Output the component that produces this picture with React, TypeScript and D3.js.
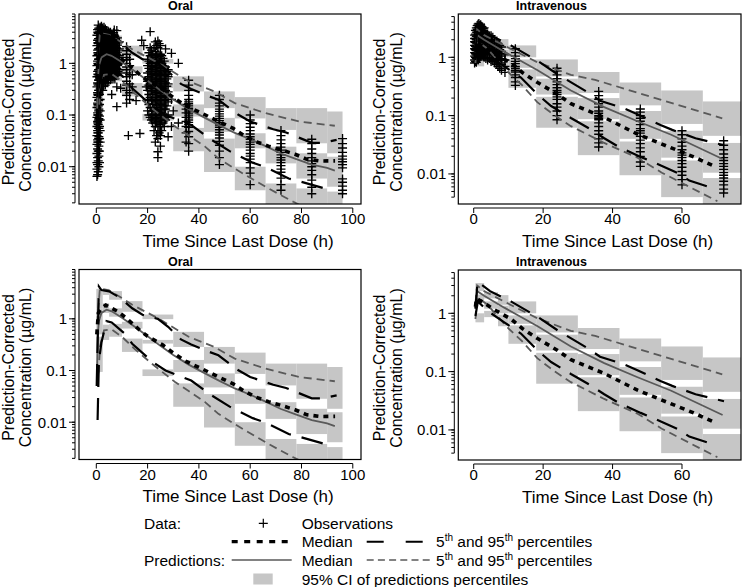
import React from "react";
import * as d3 from "d3";

type Pt = [number, number];

// ---------------- ORAL ----------------
const oralBinEdges = [0, 2.5, 5, 10, 18, 30, 42, 54, 66, 78, 90, 96];
const oralCI95: Pt[] = [[1.6, 3.8], [2.9, 3.8], [2.34, 3.44], [1.37, 2.2], [0.985, 1.21], [0.286, 0.56], [0.136, 0.286], [0.086, 0.222], [0.0515, 0.136], [0.0284, 0.136], [0.0182, 0.117]];
const oralCI50: Pt[] = [[0.5, 1.6], [1.3, 2.0], [1.1, 1.6], [0.649, 0.875], [0.332, 0.391], [0.0935, 0.16], [0.0471, 0.0881], [0.0227, 0.0444], [0.0116, 0.0244], [0.0059, 0.0182], [0.0041, 0.0156]];
const oralCI5: Pt[] = [[0.094, 0.45], [0.39, 0.77], [0.45, 0.8], [0.229, 0.415], [0.0782, 0.105], [0.0199, 0.0563], [0.0079, 0.035], [0.0035, 0.01], [0.0015, 0.00474], [0.0015, 0.0038], [0.0015, 0.0033]];

const oralObsP95: Pt[] = [[0.15, 0.05], [1.0, 4.2], [2, 3.6], [5, 3.4], [9, 2.6], [14, 1.6], [18, 1.2], [24, 1.0], [28, 0.7], [33, 0.4], [37, 0.32], [42, 0.25], [47.6, 0.197], [55.4, 0.101], [60, 0.075], [69, 0.053], [74, 0.046], [84, 0.029], [88.5, 0.029], [93.7, 0.033]];
const oralObsP50: Pt[] = [[0.2, 0.5], [0.8, 1.3], [2, 1.6], [3.7, 1.84], [6, 1.6], [8.6, 1.37], [12, 1.0], [17, 0.6], [20, 0.46], [26, 0.31], [30, 0.22], [35, 0.15], [41.7, 0.105], [47.6, 0.075], [53.4, 0.055], [57.3, 0.041], [61.9, 0.031], [67.1, 0.025], [72.3, 0.021], [77.5, 0.0174], [82.1, 0.0139], [87.3, 0.0129], [93.1, 0.013]];
const oralObsP5: Pt[] = [[0.5, 0.011], [1, 0.15], [2, 0.35], [4, 0.9], [6, 0.85], [11, 0.52], [14, 0.33], [22, 0.146], [27, 0.1], [37, 0.064], [45, 0.033], [52, 0.02], [61, 0.012], [66, 0.0098], [75, 0.0059], [80, 0.0051], [89, 0.0038]];
const oralPredP95: Pt[] = [[0.3, 0.8], [1.4, 3.9], [5, 3.55], [9, 2.7], [14, 1.87], [24, 1.03], [36, 0.45], [46, 0.286], [54, 0.17], [66, 0.109], [79, 0.075], [93, 0.062]];
const oralPredP50: Pt[] = [[0.3, 0.1], [0.6, 0.5], [1, 0.9], [2, 1.3], [4, 1.5], [6, 1.4], [10, 1.05], [15, 0.7], [20, 0.46], [25, 0.3], [30, 0.2], [36, 0.13], [42, 0.09], [48, 0.063], [54, 0.045], [60, 0.034], [66, 0.025], [72, 0.018], [78, 0.014], [84, 0.011], [90, 0.0095], [93, 0.0084]];
const oralPredP5: Pt[] = [[0.5, 0.05], [1.5, 0.3], [3, 0.6], [6, 0.62], [10, 0.45], [15, 0.26], [21.6, 0.136], [30.7, 0.06], [36, 0.04], [42.4, 0.0245], [47.6, 0.0145], [53, 0.0098], [59.3, 0.0064], [67.1, 0.0038], [76.8, 0.0021], [84, 0.0014], [93, 0.001]];

const oralObsTimes = [
  0.25, 0.5, 0.6, 0.75, 0.9, 1.0, 1.25, 1.5, 1.75, 2, 2.25, 2.5, 2.75, 3, 3.25, 3.5, 3.75, 4, 4.25, 4.5, 4.75, 5, 5.25, 5.5, 5.75,
  6, 6.25, 6.5, 6.75, 7, 7.25, 7.5, 7.75, 8, 8.25, 8.5, 9, 9.5,
  11.8, 13, 14, 15.5, 17, 12.5, 17.7, 18.5, 19.5,
  20, 20.5, 21, 21.5, 22, 22.5, 23, 23.5, 24, 24.5, 25, 25.5, 26, 26.5, 27, 27.5, 28, 29.3, 30, 32,
  35, 36, 48, 60, 72, 84, 96,
];
const oralObsConc: number[][] = [
  [0.0065, 0.009, 0.012, 0.018, 0.027, 0.04, 0.06, 0.09, 0.14, 0.22, 0.35, 0.55, 0.9, 1.4, 2.2, 3.5],
  [0.007, 0.011, 0.015, 0.022, 0.033, 0.05, 0.075, 0.11, 0.17, 0.27, 0.42, 0.7, 1.1, 1.8, 2.8, 4.5],
  [0.03, 0.045, 0.07, 0.1, 0.16, 0.25, 0.4, 0.62, 1.0, 1.6, 2.5, 4.0],
  [0.008, 0.013, 0.02, 0.03, 0.045, 0.065, 0.1, 0.15, 0.24, 0.38, 0.6, 0.95, 1.5, 2.4, 3.8, 5.5],
  [0.02, 0.035, 0.055, 0.08, 0.12, 0.19, 0.3, 0.47, 0.75, 1.2, 1.9, 3.0, 4.6],
  [0.01, 0.016, 0.025, 0.038, 0.055, 0.085, 0.13, 0.2, 0.3, 0.48, 0.75, 1.2, 1.9, 3.0, 4.8],
  [0.012, 0.02, 0.035, 0.06, 0.095, 0.16, 0.25, 0.4, 0.65, 1.0, 1.6, 2.6, 4.2],
  [0.03, 0.05, 0.08, 0.12, 0.2, 0.32, 0.5, 0.8, 1.25, 2.0, 3.2, 5.0],
  [0.4, 0.55, 0.78, 1.05, 1.45, 2.0, 2.7, 3.6, 4.7],
  [0.35, 0.5, 0.7, 0.95, 1.3, 1.8, 2.4, 3.2, 4.2, 5.2],
  [0.45, 0.62, 0.88, 1.2, 1.65, 2.25, 3.0, 4.0],
  [0.3, 0.42, 0.6, 0.82, 1.1, 1.5, 2.05, 2.8, 3.7, 4.8],
  [0.36, 0.52, 0.72, 0.98, 1.35, 1.85, 2.5, 3.35, 4.4],
  [0.45, 0.62, 0.85, 1.15, 1.6, 2.2, 3.0, 4.0, 5.0],
  [0.5, 0.68, 0.92, 1.25, 1.7, 2.35, 3.2, 4.2],
  [0.38, 0.55, 0.75, 1.0, 1.4, 1.9, 2.6, 3.5, 4.6],
  [0.42, 0.58, 0.8, 1.1, 1.5, 2.05, 2.8, 3.8],
  [0.5, 0.7, 0.95, 1.3, 1.75, 2.4, 3.2, 4.3],
  [0.55, 0.75, 1.0, 1.4, 1.9, 2.6, 3.5],
  [0.42, 0.6, 0.82, 1.1, 1.5, 2.05, 2.8, 3.8],
  [0.48, 0.66, 0.9, 1.2, 1.65, 2.25, 3.1, 4.1],
  [0.55, 0.75, 1.0, 1.35, 1.85, 2.5, 3.4],
  [0.6, 0.82, 1.1, 1.5, 2.05, 2.8, 3.8],
  [0.48, 0.65, 0.9, 1.2, 1.65, 2.25, 3.0, 4.0],
  [0.52, 0.72, 0.98, 1.35, 1.8, 2.45, 3.3],
  [0.25, 0.6, 0.8, 1.1, 1.5, 2.0, 2.7, 3.6],
  [0.56, 0.76, 1.05, 1.4, 1.95, 2.6, 3.5],
  [0.5, 0.7, 0.95, 1.3, 1.75, 2.4, 3.2],
  [0.62, 0.85, 1.15, 1.55, 2.1, 2.85, 3.9],
  [0.55, 0.75, 1.0, 1.4, 1.9, 2.6, 3.5, 4.4],
  [0.5, 0.7, 0.95, 1.3, 1.75, 2.4, 3.3],
  [0.65, 0.88, 1.2, 1.6, 2.2, 3.0],
  [0.58, 0.8, 1.1, 1.5, 2.0, 2.75],
  [0.145, 0.35, 0.6, 0.8, 1.05, 1.45, 1.95, 2.7, 4.3],
  [0.65, 0.9, 1.2, 1.65, 2.25, 3.1],
  [0.7, 0.95, 1.3, 1.8, 2.5],
  [0.75, 1.0, 1.4, 1.9, 2.6],
  [0.33],
  [0.17, 0.24, 0.3, 0.38, 0.45, 0.55, 0.65, 0.75, 0.85, 1.0, 1.15, 1.3, 1.5, 1.75, 2.1],
  [0.2, 0.27, 0.4, 0.6, 0.9, 1.2],
  [0.35, 0.6],
  [0.19],
  [0.044],
  [0.04],
  [2.8],
  [2.2],
  [0.35],
  [0.12, 0.2, 0.3, 0.45, 0.65, 0.9, 1.2],
  [0.1, 0.16, 0.25, 0.38, 0.55, 0.8, 1.1, 1.6],
  [0.09, 0.14, 0.22, 0.33, 0.48, 0.7, 1.0, 1.4, 2.0, 4.1],
  [0.08, 0.12, 0.19, 0.29, 0.42, 0.6, 0.86, 1.2, 1.8],
  [0.07, 0.1, 0.16, 0.25, 0.36, 0.52, 0.75, 1.05, 1.5],
  [0.05, 0.09, 0.13, 0.2, 0.3, 0.44, 0.64, 0.9, 1.3, 2.0],
  [0.03, 0.06, 0.085, 0.12, 0.18, 0.27, 0.4, 0.58, 0.82, 1.15, 1.7, 2.6],
  [0.04, 0.07, 0.1, 0.15, 0.22, 0.33, 0.48, 0.7, 1.0, 1.4, 2.2],
  [0.015, 0.0195, 0.035, 0.05, 0.075, 0.1, 0.14, 0.2, 0.28, 0.38, 0.5, 0.65, 0.85, 1.1, 1.5, 2.0, 2.7],
  [0.045, 0.065, 0.09, 0.13, 0.19, 0.26, 0.36, 0.48, 0.62, 0.8, 1.05, 1.35, 2.4],
  [0.025, 0.04, 0.06, 0.09, 0.12, 0.17, 0.24, 0.33, 0.45, 0.6, 0.8, 1.1, 1.5, 2.2],
  [0.05, 0.08, 0.11, 0.16, 0.23, 0.34, 0.5, 0.72, 1.0, 1.4],
  [0.07, 0.1, 0.15, 0.22, 0.32, 0.45, 0.65, 0.9, 1.25],
  [0.06, 0.09, 0.13, 0.19, 0.28, 0.4, 0.58, 0.8, 1.1],
  [0.08, 0.13, 0.2, 0.3, 0.42, 0.6, 0.85, 1.9],
  [0.09, 0.15, 0.24, 0.36, 0.5, 0.7],
  [0.038, 0.1, 0.18, 0.28, 0.4, 0.55, 0.75],
  [0.06, 0.2, 1.56],
  [0.12],
  [1.0, 0.07],
  [0.03, 0.045, 0.06, 0.075, 0.09, 0.11, 0.13, 0.16],
  [0.02, 0.028, 0.038, 0.048, 0.058, 0.065, 0.072, 0.08, 0.088, 0.096, 0.105, 0.115, 0.125, 0.135, 0.15, 0.165, 0.18, 0.2, 0.24, 0.3, 0.38, 0.47],
  [0.011, 0.015, 0.02, 0.026, 0.031, 0.036, 0.041, 0.046, 0.052, 0.058, 0.064, 0.071, 0.078, 0.086, 0.095, 0.105, 0.118, 0.13, 0.15, 0.17, 0.2, 0.24],
  [0.0045, 0.0075, 0.0095, 0.012, 0.014, 0.016, 0.018, 0.021, 0.024, 0.027, 0.03, 0.034, 0.038, 0.043, 0.05, 0.058, 0.068, 0.08, 0.1],
  [0.0035, 0.0045, 0.006, 0.0078, 0.009, 0.0105, 0.012, 0.0135, 0.015, 0.017, 0.019, 0.021, 0.024, 0.028, 0.033, 0.04, 0.05],
  [0.003, 0.004, 0.0055, 0.007, 0.0085, 0.01, 0.0115, 0.013, 0.015, 0.018, 0.022, 0.028, 0.034],
  [0.003, 0.0035, 0.0042, 0.005, 0.0058, 0.0095, 0.011, 0.0125, 0.014, 0.016, 0.019, 0.023, 0.028, 0.035],
];

// ---------------- INTRAVENOUS ----------------
const ivBinEdges = [0.5, 3, 7, 10, 18, 30, 42, 54, 66, 78];
const ivCI95: Pt[] = [[2.4, 3.3], [1.8, 2.3], [1.4, 2.05], [1.0, 1.6], [0.47, 0.92], [0.244, 0.56], [0.15, 0.37], [0.072, 0.27], [0.045, 0.175]];
const ivCI50: Pt[] = [[1.5, 2.1], [1.2, 1.6], [1.0, 1.35], [0.66, 0.92], [0.23, 0.43], [0.087, 0.2], [0.04, 0.12], [0.019, 0.055], [0.0105, 0.034]];
const ivCI5: Pt[] = [[0.7, 1.0], [0.86, 1.1], [0.6, 0.95], [0.3, 0.62], [0.062, 0.21], [0.021, 0.08], [0.0095, 0.036], [0.004, 0.017], [0.0028, 0.0085]];

const ivPredP95: Pt[] = [[0.5, 1.5], [1, 3.0], [3, 2.4], [10.7, 1.39], [18.4, 0.82], [28, 0.5], [35, 0.41], [71.6, 0.09]];
const ivPredP50: Pt[] = [[0.5, 1.2], [1, 2.4], [3, 2.0], [8.8, 1.25], [18.4, 0.6], [28, 0.27], [37.6, 0.14], [47.2, 0.08], [56.9, 0.047], [71.7, 0.018]];
const ivPredP5: Pt[] = [[0.5, 0.8], [1, 1.9], [3.7, 1.45], [10, 0.55], [14, 0.33], [18.3, 0.17], [23.4, 0.1], [28, 0.066], [37.6, 0.034], [47.2, 0.019], [54.2, 0.0105], [70.2, 0.0034]];
const ivObsP95: Pt[] = [[0.5, 1.2], [1.1, 3.5], [4.7, 2.4], [10.7, 1.6], [18.4, 0.87], [24.2, 0.51], [32.9, 0.25], [36.4, 0.18], [43, 0.135], [47, 0.107], [53.8, 0.069], [57.2, 0.057], [63.9, 0.041], [67.7, 0.036], [72.1, 0.031]];
const ivObsP50: Pt[] = [[0.5, 1.3], [0.8, 1.8], [3, 1.5], [6, 1.15], [10.7, 0.8], [14, 0.55], [18.4, 0.37], [24.2, 0.23], [28, 0.16], [37.6, 0.093], [47.2, 0.048], [56.9, 0.028], [63, 0.02], [69.4, 0.0135]];
const ivObsP5: Pt[] = [[0.5, 0.9], [1.2, 1.6], [4, 1.1], [8.8, 0.7], [13.6, 0.45], [18.4, 0.23], [22.3, 0.146], [28, 0.091], [32.9, 0.062], [37.6, 0.041], [41.8, 0.029], [48.1, 0.0196], [52, 0.0157], [59.2, 0.0101], [62.1, 0.0077], [69.3, 0.0056]];

const ivObsTimes = [0.25, 0.5, 0.75, 1, 1.25, 1.5, 1.75, 2, 2.25, 2.5, 2.75, 3, 3.5, 4, 4.5, 5, 5.5, 6, 6.5, 7, 7.5, 8, 9, 12, 24, 36, 48, 60, 72];
const ivObsConc: number[][] = [
  [0.8, 0.9, 1.05, 1.2, 1.4, 1.6, 1.85, 2.1, 2.4],
  [0.85, 1.0, 1.15, 1.35, 1.55, 1.8, 2.1, 2.5, 2.9],
  [0.82, 0.95, 1.1, 1.3, 1.5, 1.7, 2.0, 2.3, 2.7, 3.2],
  [0.95, 1.1, 1.3, 1.5, 1.75, 2.0, 2.3, 2.65, 3.0, 3.5],
  [0.9, 1.05, 1.2, 1.4, 1.6, 1.85, 2.15, 2.45, 2.8, 3.2, 3.7],
  [1.0, 1.2, 1.4, 1.65, 1.9, 2.2, 2.55, 2.9, 3.3, 3.8],
  [1.0, 1.15, 1.35, 1.55, 1.8, 2.05, 2.4, 2.75, 3.1, 3.5],
  [1.05, 1.25, 1.5, 1.75, 2.0, 2.3, 2.7, 3.1, 3.6],
  [1.1, 1.2, 1.4, 1.6, 1.85, 2.15, 2.5, 2.9, 3.4],
  [1.1, 1.3, 1.55, 1.8, 2.1, 2.45, 2.85, 3.3],
  [1.05, 1.25, 1.5, 1.75, 2.05, 2.4, 2.8, 3.1],
  [1.0, 1.2, 1.45, 1.7, 2.0, 2.35, 2.75, 3.2],
  [0.95, 1.15, 1.4, 1.65, 1.95, 2.3, 2.7],
  [0.9, 1.1, 1.3, 1.55, 1.8, 2.1, 2.5],
  [0.95, 1.15, 1.4, 1.65, 1.95, 2.3],
  [0.85, 1.0, 1.2, 1.45, 1.7, 2.0, 2.35],
  [0.9, 1.1, 1.3, 1.55, 1.85, 2.2],
  [0.8, 0.95, 1.15, 1.35, 1.6, 1.9],
  [0.75, 0.9, 1.05, 1.25, 1.5, 1.75],
  [0.7, 0.85, 1.0, 1.2, 1.45, 1.7],
  [0.65, 0.8, 0.95, 1.15, 1.35, 1.6],
  [0.6, 0.75, 0.9, 1.05, 1.25, 1.5],
  [0.55, 0.7, 0.9, 1.1],
  [0.33, 0.38, 0.45, 0.5, 0.56, 0.6, 0.65, 0.7, 0.78, 0.85, 0.95, 1.05, 1.2, 1.4],
  [0.085, 0.1, 0.12, 0.14, 0.16, 0.19, 0.21, 0.23, 0.25, 0.27, 0.3, 0.34, 0.38, 0.43, 0.5, 0.58, 0.65],
  [0.029, 0.034, 0.04, 0.048, 0.055, 0.065, 0.075, 0.085, 0.09, 0.095, 0.1, 0.11, 0.12, 0.14, 0.16, 0.19, 0.22, 0.26],
  [0.0135, 0.016, 0.02, 0.024, 0.028, 0.033, 0.038, 0.044, 0.05, 0.055, 0.06, 0.07, 0.08, 0.09, 0.1, 0.115, 0.13],
  [0.0065, 0.008, 0.0095, 0.011, 0.013, 0.015, 0.017, 0.019, 0.021, 0.023, 0.026, 0.03, 0.035, 0.04, 0.047, 0.055],
  [0.0047, 0.0055, 0.0065, 0.0075, 0.0085, 0.0095, 0.0105, 0.012, 0.0135, 0.015, 0.017, 0.019, 0.022, 0.026, 0.031, 0.037],
];

const oralXTicks = [0, 20, 40, 60, 80, 100];
const ivXTicks = [0, 20, 40, 60];
const yTickLabels = ["0.01", "0.1", "1"];
const yTickValues = [0.01, 0.1, 1];

const FONT = "'Liberation Sans', Arial, Helvetica, sans-serif";
const CI_FILL = "#c6c6c6";
const GRAY = "#595959";

interface RouteData {
  bins: number[]; ci5: Pt[]; ci50: Pt[]; ci95: Pt[];
  obsP5: Pt[]; obsP50: Pt[]; obsP95: Pt[];
  predP5: Pt[]; predP50: Pt[]; predP95: Pt[];
  obsTimes: number[]; obsConc: number[][];
  xTicks: number[]; xDomain: [number, number]; yDomain: [number, number];
  title: string;
}

const oral: RouteData = {
  bins: oralBinEdges, ci5: oralCI5, ci50: oralCI50, ci95: oralCI95,
  obsP5: oralObsP5, obsP50: oralObsP50, obsP95: oralObsP95,
  predP5: oralPredP5, predP50: oralPredP50, predP95: oralPredP95,
  obsTimes: oralObsTimes, obsConc: oralObsConc,
  xTicks: oralXTicks, xDomain: [-6.75, 103.2], yDomain: [0.0019, 9], title: "Oral",
};
const iv: RouteData = {
  bins: ivBinEdges, ci5: ivCI5, ci50: ivCI50, ci95: ivCI95,
  obsP5: ivObsP5, obsP50: ivObsP50, obsP95: ivObsP95,
  predP5: ivPredP5, predP50: ivPredP50, predP95: ivPredP95,
  obsTimes: ivObsTimes, obsConc: ivObsConc,
  xTicks: ivXTicks, xDomain: [-4.44, 77.0], yDomain: [0.00305, 5.53], title: "Intravenous",
};

interface PanelProps {
  d: RouteData; left: number; right: number; top: number; bottom: number;
  offX: number; showObs: boolean; id: string;
}

function Panel({ d, left, right, top, bottom, offX, showObs, id }: PanelProps) {
  const xs = d3.scaleLinear().domain(d.xDomain).range([left, right]);
  const ys = d3.scaleLog().domain(d.yDomain).range([bottom, top]);
  const line = d3.line<Pt>().x((p) => xs(p[0])).y((p) => ys(p[1])).curve(d3.curveLinear);
  const rects: JSX.Element[] = [];
  [d.ci95, d.ci50, d.ci5].forEach((ci, k) => {
    ci.forEach((r, i) => {
      const x0 = xs(d.bins[i]);
      const x1 = xs(d.bins[i + 1]);
      rects.push(
        <rect key={`r${k}-${i}`} x={x0} y={ys(r[1])} width={x1 - x0} height={ys(r[0]) - ys(r[1])} fill={CI_FILL} />
      );
    });
  });
  const minor: number[] = [];
  for (let e = -4; e <= 1; e++) {
    for (let m = 1; m <= 9; m++) {
      const v = m * Math.pow(10, e);
      if (v >= d.yDomain[0] && v <= d.yDomain[1]) minor.push(v);
    }
  }
  const axX = left - 4;
  const axY = bottom + 4;
  const cx = (left + right) / 2;
  return (
    <g>
      <defs>
        <clipPath id={id}>
          <rect x={left} y={top} width={right - left} height={bottom - top} />
        </clipPath>
      </defs>
      <g clipPath={`url(#${id})`}>
        {rects}
        {showObs &&
          d.obsTimes.map((t, i) =>
            d.obsConc[i].map((c, j) => (
              <path key={`o${i}-${j}`} d="M-4.5,0H4.5M0,-4.5V4.5" transform={`translate(${xs(t)},${ys(c)})`} stroke="#000" strokeWidth={1.35} fill="none" />
            ))
          )}
        <path d={line(d.predP50) || ""} fill="none" stroke={GRAY} strokeWidth={1.8} />
        <path d={line(d.predP95) || ""} fill="none" stroke={GRAY} strokeWidth={1.8} strokeDasharray="8 5" />
        <path d={line(d.predP5) || ""} fill="none" stroke={GRAY} strokeWidth={1.8} strokeDasharray="8 5" />
        <path d={line(d.obsP95) || ""} fill="none" stroke="#000" strokeWidth={2.2} strokeDasharray="22 11" />
        <path d={line(d.obsP5) || ""} fill="none" stroke="#000" strokeWidth={2.2} strokeDasharray="22 11" />
        <path d={line(d.obsP50) || ""} fill="none" stroke="#000" strokeWidth={3.6} strokeDasharray="5 5" />
      </g>
      <rect x={left} y={top} width={right - left} height={bottom - top} fill="none" stroke="#000" strokeWidth={1.2} />
      <line x1={axX} x2={axX} y1={ys(minor[0])} y2={ys(minor[minor.length - 1])} stroke="#000" strokeWidth={1} />
      {minor.map((v, i) => (
        <line key={`m${i}`} x1={axX} x2={axX - 3} y1={ys(v)} y2={ys(v)} stroke="#000" strokeWidth={1} />
      ))}
      {yTickValues.map((v, i) => (
        <g key={`y${i}`}>
          <line x1={axX} x2={axX - 6} y1={ys(v)} y2={ys(v)} stroke="#000" strokeWidth={1} />
          <text x={axX - 8} y={ys(v) + 5.3} textAnchor="end" fontSize={15} fontFamily={FONT}>{yTickLabels[i]}</text>
        </g>
      ))}
      <line x1={xs(d.xTicks[0])} x2={xs(d.xTicks[d.xTicks.length - 1])} y1={axY} y2={axY} stroke="#000" strokeWidth={1} />
      {d.xTicks.map((t) => (
        <g key={`x${t}`}>
          <line x1={xs(t)} x2={xs(t)} y1={axY} y2={axY + 5} stroke="#000" strokeWidth={1} />
          <text x={xs(t)} y={bottom + 20} textAnchor="middle" fontSize={15} fontFamily={FONT}>{t}</text>
        </g>
      ))}
      <text x={offX + 180.5} y={top - 4} textAnchor="middle" fontSize={12.5} fontWeight="bold" fontFamily={FONT}>{d.title}</text>
      <text x={cx + 18} y={bottom + 42.5} textAnchor="middle" fontSize={17} fontFamily={FONT}>Time Since Last Dose (h)</text>
      <text transform={`translate(${offX + 14.3},${(top + bottom) / 2 + 3}) rotate(-90)`} textAnchor="middle" fontSize={16} fontFamily={FONT}>Prediction-Corrected</text>
      <text transform={`translate(${offX + 31},${(top + bottom) / 2 + 3}) rotate(-90)`} textAnchor="middle" fontSize={16} fontFamily={FONT}>Concentration (µg/mL)</text>
    </g>
  );
}

function Pct({ x, y }: { x: number; y: number }) {
  return (
    <text x={x} y={y} fontSize={15.5} fontFamily={FONT}>
      5<tspan dy={-6} fontSize={10}>th</tspan>
      <tspan dy={6}> and 95</tspan>
      <tspan dy={-6} fontSize={10}>th</tspan>
      <tspan dy={6}> percentiles</tspan>
    </text>
  );
}

function Legend() {
  const r1 = 523.3, r2 = 541.7, r3 = 560, r4 = 579;
  const b = 5.6;
  return (
    <g fontFamily={FONT} fontSize={15.5}>
      <text x={144} y={r1 + b}>Data:</text>
      <path d="M-4.5,0H4.5M0,-4.5V4.5" transform={`translate(263.3,${r1})`} stroke="#000" strokeWidth={1.2} />
      <text x={301.7} y={r1 + b}>Observations</text>
      <line x1={231.7} x2={291.7} y1={r2} y2={r2} stroke="#000" strokeWidth={3.2} strokeDasharray="6 6.5" />
      <text x={301.7} y={r2 + b}>Median</text>
      <line x1={366.7} x2={431.7} y1={r2} y2={r2} stroke="#000" strokeWidth={2} strokeDasharray="17 22" />
      <Pct x={436} y={r2 + b} />
      <text x={144} y={r3 + b}>Predictions:</text>
      <line x1={231.7} x2={291.7} y1={r3} y2={r3} stroke={GRAY} strokeWidth={1.6} />
      <text x={301.7} y={r3 + b}>Median</text>
      <line x1={366.7} x2={431.7} y1={r3} y2={r3} stroke={GRAY} strokeWidth={1.6} strokeDasharray="7 4.2" />
      <Pct x={436} y={r3 + b} />
      <rect x={253.3} y={r4 - 5.5} width={19.4} height={11} fill={CI_FILL} />
      <text x={301.7} y={r4 + b}>95% CI of predictions percentiles</text>
    </g>
  );
}

export default function App() {
  return (
    <svg width={742} height={587} viewBox="0 0 742 587" style={{ position: "absolute", left: 0, top: 0, background: "#fff" }}>
      <rect x={0} y={0} width={742} height={587} fill="#fff" />
      <Panel d={oral} left={79} right={361} top={14} bottom={204} offX={0} showObs={true} id="c1" />
      <Panel d={iv} left={458.3} right={741} top={14} bottom={204} offX={371} showObs={true} id="c2" />
      <Panel d={oral} left={79} right={361} top={269.5} bottom={459.5} offX={0} showObs={false} id="c3" />
      <Panel d={iv} left={458.3} right={741} top={270} bottom={460} offX={371} showObs={false} id="c4" />
      <Legend />
    </svg>
  );
}
